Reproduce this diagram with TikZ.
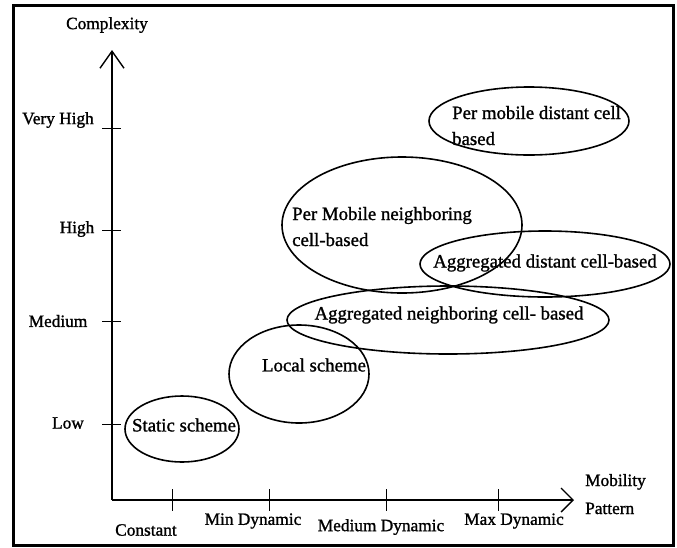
\documentclass[tikz,border=0pt]{standalone}
\usepackage{fontspec}
\setmainfont{Liberation Serif}[FakeBold=1.2]
\usetikzlibrary{arrows.meta}
\begin{document}
\begin{tikzpicture}[x=1pt,y=-1pt,
  lbl/.style={font=\fontsize{18.8}{26}\selectfont, inner sep=0pt},
  albl/.style={font=\fontsize{17.3}{28}\selectfont, inner sep=0pt},
  ell/.style={draw, line width=1.6pt},
  axis/.style={line width=1.8pt},
  tick/.style={line width=1pt}]
\useasboundingbox (0,0) rectangle (677,547);
\draw[line width=3pt] (13,5) rectangle (673,545);
% axes
\coordinate (O) at (112,500);
\coordinate (ytop) at (112,50);
\coordinate (xend) at (574,500);
\draw[axis, -{Straight Barb[length=17pt,width=24pt,line width=1.4pt]}] (O) -- (ytop);
\draw[axis, -{Straight Barb[length=12pt,width=24pt,line width=1.4pt]}] (O) -- (xend);
\node[albl] (cx) at (107,25) {Complexity};
\node[albl, align=left, anchor=base west] (mp) at (585,514) {Mobility\\Pattern};
% y ticks
\foreach \yy/\t/\xl/\yt [count=\i] in {128/Very High/58/120, 230/High/77/229, 321/Medium/58/321, 424/Low/68/423}{
  \draw[tick] (102,\yy) -- (121,\yy);
  \node[albl] (yl\i) at (\xl,\yt) {\t};
}
% x ticks
\foreach \xx/\t/\xl/\yl [count=\i] in {172/Constant/146/530, 269/Min Dynamic/253/521, 386/Medium Dynamic/381/527, 498/Max Dynamic/514/521}{
  \draw[tick] (\xx,489) -- (\xx,511);
  \node[albl] (xl\i) at (\xl,\yl) {\t};
}
% ellipses
\draw[ell] (182,429) ellipse [x radius=57, y radius=33];
\node[lbl] (s) at (184,425) {Static scheme};
\draw[ell] (299,374) ellipse [x radius=70, y radius=49];
\node[lbl] (l) at (314,365) {Local scheme};
\draw[ell] (448,320) ellipse [x radius=161, y radius=34];
\node[lbl] (an) at (449,315) {Aggregated neighboring cell- based};
\draw[ell] (402,225) ellipse [x radius=120, y radius=68];
\node[lbl, align=left, anchor=base west] (pn) at (292,246) {Per Mobile neighboring\\cell-based};
\draw[ell] (545,264) ellipse [x radius=125, y radius=33];
\node[lbl] (ad) at (545,263) {Aggregated distant cell-based};
\draw[ell] (529,121) ellipse [x radius=100, y radius=34];
\node[lbl, align=left, anchor=base west] (pd) at (452,145) {Per mobile distant cell\\based};
\end{tikzpicture}
\end{document}
